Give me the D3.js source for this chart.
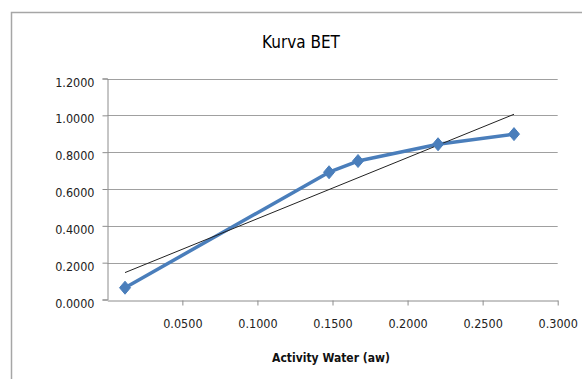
<!DOCTYPE html>
<html><head><meta charset="utf-8">
<script src="https://cdn.jsdelivr.net/npm/d3@7"></script>
<style>
body{margin:0;background:#fff;}
svg{display:block;}
text{font-family:"Liberation Sans Narrow","DejaVu Sans Condensed","Roboto Condensed",sans-serif;}
</style></head>
<body>
<svg id="chart" width="582" height="379"></svg>
<script>
const title = "Kurva BET";
const xTitle = "Activity Water (aw)";
const awValues = [0.0118, 0.1477, 0.1670, 0.2203, 0.2709];
const betValues = [0.064, 0.691, 0.752, 0.843, 0.898];
const xTickValues = [0.05, 0.10, 0.15, 0.20, 0.25, 0.30];
const yTickValues = [0, 0.2, 0.4, 0.6, 0.8, 1.0, 1.2];

const svg = d3.select("#chart");
// chart frame (cropped by the window)
svg.append("rect").attr("x",11.5).attr("y",12.5).attr("width",700).attr("height",500)
  .attr("fill","none").attr("stroke","#a6a6a6").attr("stroke-width",1.5);

const x = d3.scaleLinear().domain([0,0.3]).range([107.3,557.7]);
const y = d3.scaleLinear().domain([0,1.2]).range([299.5,78.5]);

// gridlines
svg.append("g").selectAll("line").data(yTickValues.filter(d=>d>0)).join("line")
  .attr("x1",x(0)).attr("x2",x(0.3)).attr("y1",d=>Math.round(y(d))+0.5).attr("y2",d=>Math.round(y(d))+0.5)
  .attr("stroke","#a0a0a0").attr("stroke-width",1);

// y axis
const yAxis = d3.axisLeft(y).tickValues(yTickValues).tickFormat(d3.format(".4f")).tickSize(5).tickPadding(8);
const gy = svg.append("g").attr("transform",`translate(${Math.round(x(0))+0.5},0)`).call(yAxis);
gy.select(".domain").attr("stroke","#8c8c8c");
gy.selectAll(".tick line").attr("stroke","#8c8c8c");
gy.selectAll("text").attr("font-size",12.5).attr("fill","#222").attr("dy","0.6em");

// x axis
const xAxis = d3.axisBottom(x).tickValues(xTickValues).tickFormat(d3.format(".4f")).tickSize(5).tickPadding(14).tickSizeOuter(0);
const gx = svg.append("g").attr("transform",`translate(0,${Math.round(y(0))+0.5})`).call(xAxis);
gx.select(".domain").attr("stroke","#8c8c8c");
gx.selectAll(".tick line").attr("stroke","#8c8c8c");
gx.selectAll("text").attr("font-size",12.5).attr("fill","#222");

// series line
const line = d3.line().x(d=>x(d[0])).y(d=>y(d[1]));
const pts = awValues.map((v,i)=>[v,betValues[i]]);
svg.append("path").datum(pts).attr("d",line).attr("fill","none")
  .attr("stroke","#4a7ebb").attr("stroke-width",3.5).attr("stroke-linejoin","round");

// linear trend line (least squares from the series)
const mx = d3.mean(awValues), my = d3.mean(betValues);
const sxy = d3.sum(awValues.map((v,i)=>(v-mx)*(betValues[i]-my)));
const sxx = d3.sum(awValues.map(v=>(v-mx)*(v-mx)));
const slope = sxy/sxx, icpt = my - slope*mx;
const ext = d3.extent(awValues);
svg.append("path").datum(ext.map(v=>[v, icpt+slope*v])).attr("d",line)
  .attr("fill","none").attr("stroke","#222").attr("stroke-width",1);

// markers
svg.append("g").selectAll("path").data(pts).join("path")
  .attr("d","M0,-6.5L5.5,0L0,6.5L-5.5,0Z")
  .attr("transform",d=>`translate(${x(d[0])},${y(d[1])})`)
  .attr("fill","#4a7ebb").attr("stroke","#4a7ebb").attr("stroke-width",1);

// titles
svg.append("text").attr("x",301).attr("y",48).attr("text-anchor","middle")
  .attr("font-size",17).attr("font-weight",500).attr("fill","#000").text(title);
svg.append("text").attr("x",331).attr("y",362).attr("text-anchor","middle")
  .attr("font-size",12).attr("font-weight","bold").attr("fill","#111").text(xTitle);
</script>
</body></html>
